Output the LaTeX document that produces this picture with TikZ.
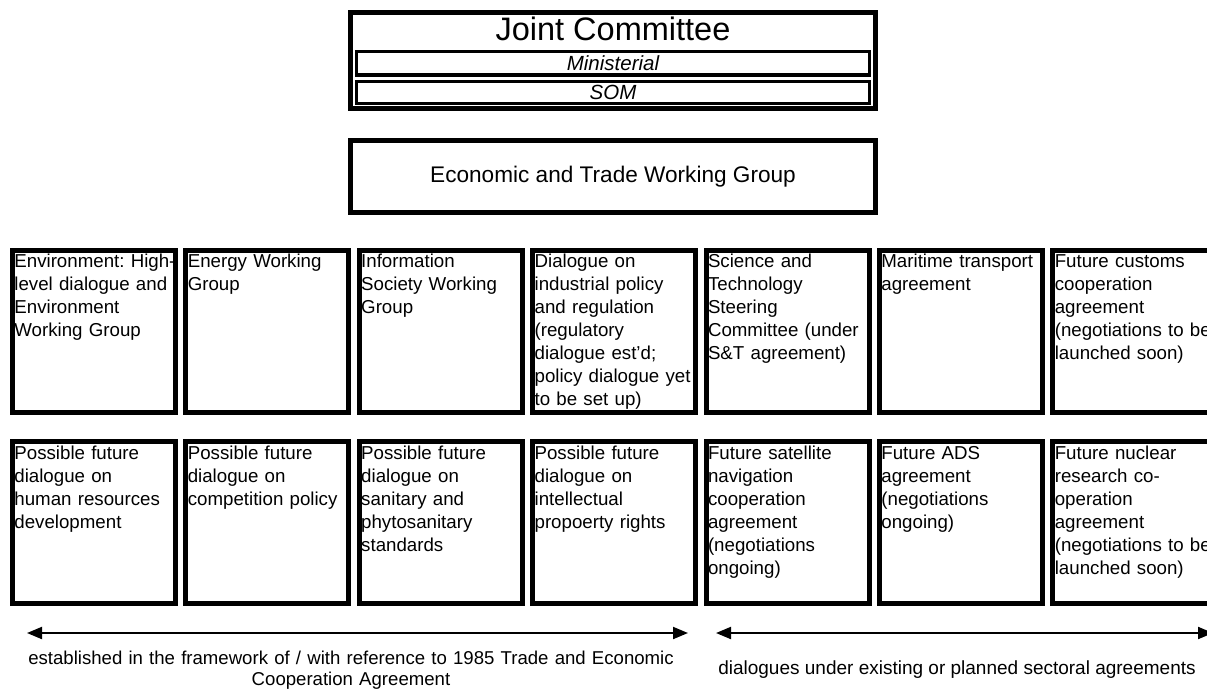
\documentclass[tikz,border=0pt]{standalone}
\usepackage{fontspec}
\setmainfont{Liberation Sans}
\usetikzlibrary{arrows.meta}
\begin{document}
\frenchspacing
\begin{tikzpicture}[x=1pt,y=-1pt,
  box/.style={draw, line width=5pt, minimum width=163pt, minimum height=162pt, inner sep=0pt},
  txt/.style={anchor=base west, inner sep=0pt, text width=180pt, align=left, font=\fontsize{18.7}{23}\selectfont\frenchspacing},
  bigbox/.style={draw, line width=5pt, minimum width=525pt, inner sep=0pt},
  inbox/.style={draw, line width=3.5pt, minimum width=513pt, inner sep=0pt, font=\fontsize{20.5}{23}\selectfont\itshape},
  lbl/.style={inner sep=0pt},
  arr/.style={line width=2pt, {Triangle[length=15pt,width=12pt]}-{Triangle[length=15pt,width=12pt]}}
]
\useasboundingbox (0,0) rectangle (1207,689);
\clip (0,0) rectangle (1207,689);

% Joint Committee
\node[bigbox, minimum height=96pt] (jcbox) at (613,60.5) {};
\node[inner sep=0pt, font=\fontsize{32.5}{36}\selectfont] (jc) at (613,28.5) {Joint Committee};
\node[inbox, minimum height=23.5pt] (min) at (613,63.25) {Ministerial};
\node[inbox, minimum height=22pt] (som) at (613,92.5) {SOM};

% Economic and Trade Working Group
\node[bigbox, minimum height=72pt, font=\fontsize{22.6}{26}\selectfont] (etwg) at (613,176.5) {Economic and Trade Working Group};

% Top row
\node[box] (a1) at (94,331.5) {};
\node[box] (a2) at (267.4,331.5) {};
\node[box] (a3) at (440.8,331.5) {};
\node[box] (a4) at (614.2,331.5) {};
\node[box] (a5) at (787.6,331.5) {};
\node[box] (a6) at (961,331.5) {};
\node[box] (a7) at (1134.4,331.5) {};

\node[txt] (a1t) at (14.2,267) {Environment: High-\\level dialogue and\\Environment\\Working Group};
\node[txt] (a2t) at (187.6,267) {Energy Working\\Group};
\node[txt] (a3t) at (361,267) {Information\\Society Working\\Group};
\node[txt] (a4t) at (534.4,267) {Dialogue on\\industrial policy\\and regulation\\(regulatory\\dialogue est{\char39}d;\\policy dialogue yet\\to be set up)};
\node[txt] (a5t) at (707.8,267) {Science and\\Technology\\Steering\\Committee (under\\S\&T agreement)};
\node[txt] (a6t) at (881.2,267) {Maritime transport\\agreement};
\node[txt] (a7t) at (1054.6,267) {Future customs\\cooperation\\agreement\\(negotiations to be\\launched soon)};

% Bottom row
\node[box] (b1) at (94,522.5) {};
\node[box] (b2) at (267.4,522.5) {};
\node[box] (b3) at (440.8,522.5) {};
\node[box] (b4) at (614.2,522.5) {};
\node[box] (b5) at (787.6,522.5) {};
\node[box] (b6) at (961,522.5) {};
\node[box] (b7) at (1134.4,522.5) {};

\node[txt] (b1t) at (14.2,459) {Possible future\\dialogue on\\human resources\\development};
\node[txt] (b2t) at (187.6,459) {Possible future\\dialogue on\\competition policy};
\node[txt] (b3t) at (361,459) {Possible future\\dialogue on\\sanitary and\\phytosanitary\\standards};
\node[txt] (b4t) at (534.4,459) {Possible future\\dialogue on\\intellectual\\propoerty rights};
\node[txt] (b5t) at (707.8,459) {Future satellite\\navigation\\cooperation\\agreement\\(negotiations\\ongoing)};
\node[txt] (b6t) at (881.2,459) {Future ADS\\agreement\\(negotiations\\ongoing)};
\node[txt] (b7t) at (1054.6,459) {Future nuclear\\research co-\\operation\\agreement\\(negotiations to be\\launched soon)};

% Arrows
\coordinate (l1) at (27,633);
\coordinate (l2) at (688,633);
\coordinate (r1) at (716,633);
\coordinate (r2) at (1213,633);
\draw[arr] (l1) -- (l2);
\draw[arr] (r1) -- (r2);

\node[lbl, anchor=base, text width=690pt, align=center, font=\fontsize{18.6}{21}\selectfont] (lab1) at (351,664) {established in the framework of / with reference to 1985 Trade and Economic\\Cooperation Agreement};
\node[lbl, anchor=base, font=\fontsize{19}{21}\selectfont] (lab2) at (957,674) {dialogues under existing or planned sectoral agreements};
\end{tikzpicture}
\end{document}
